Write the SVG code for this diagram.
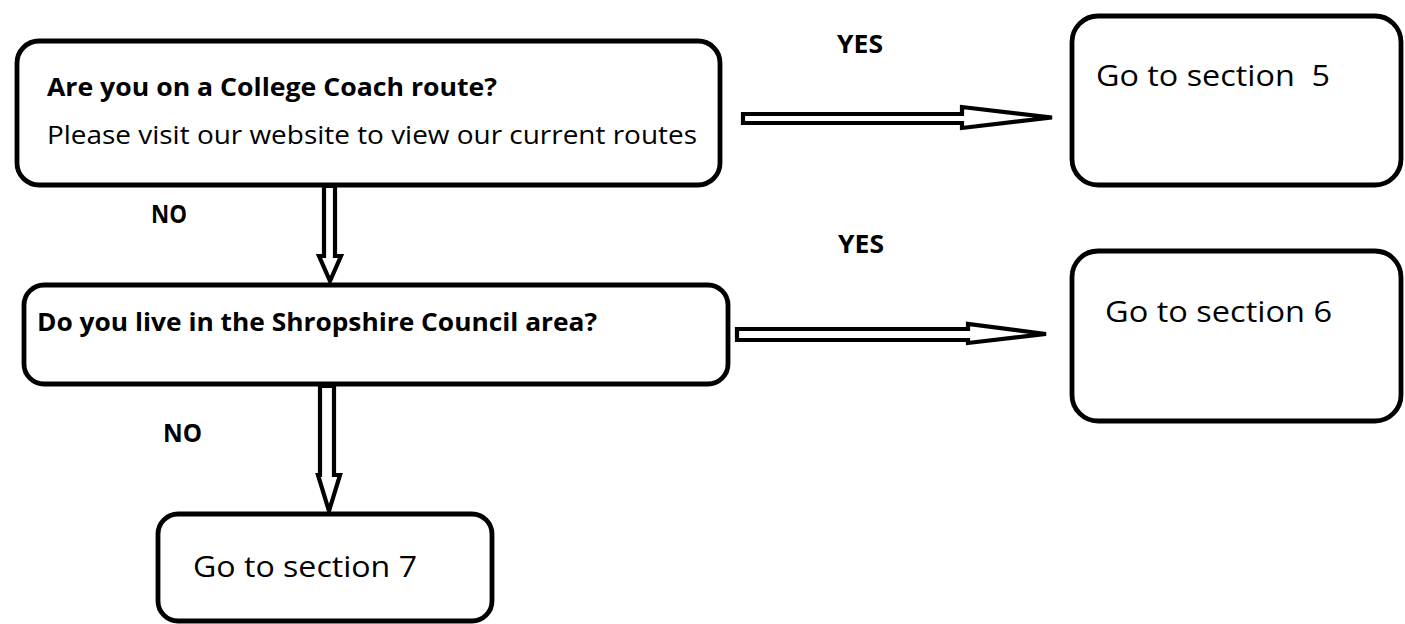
<svg xmlns="http://www.w3.org/2000/svg" width="1405" height="624" viewBox="0 0 1405 624">
<style>
.box{fill:#fff;stroke:#000;stroke-width:4.8}
.arr{fill:#fff;stroke:#000;stroke-width:4.2;stroke-linejoin:miter}
.t{font-family:"Open Sans","Noto Sans","Liberation Sans",sans-serif;fill:#000}
.b{font-weight:bold;font-size:25px}
.n{font-size:25.5px}
.g{font-size:30px}
</style>
<rect width="1405" height="624" fill="#fff"/>
<g id="connectors">
<polygon class="arr" points="743,114 962,114 962,107 1052,117.5 962,128 962,123 743,123"/>
<polygon class="arr" points="737,329 968,329 968,324 1046,334 968,343 968,340 737,340"/>
<polygon class="arr" points="324,186 335,186 335,256 341,256 330,281 319,256 324,256"/>
<polygon class="arr" points="320,386 334,386 334,475 340,475 329,511 318,475 320,475"/>
<text class="t b" x="837" y="53" textLength="46" lengthAdjust="spacingAndGlyphs">YES</text>
<text class="t b" x="838" y="253" textLength="46" lengthAdjust="spacingAndGlyphs">YES</text>
<text class="t b" x="151" y="223" textLength="36" lengthAdjust="spacingAndGlyphs">NO</text>
<text class="t b" x="163" y="442" textLength="39" lengthAdjust="spacingAndGlyphs">NO</text>
</g>
<g id="node-coach">
<rect class="box" x="17" y="41" width="703" height="144" rx="22"/>
<text class="t b" x="47" y="96" textLength="450" lengthAdjust="spacingAndGlyphs">Are you on a College Coach route?</text>
<text class="t n" x="47" y="144" textLength="650" lengthAdjust="spacingAndGlyphs">Please visit our website to view our current routes</text>
</g>
<g id="node-shropshire">
<rect class="box" x="24" y="285" width="704" height="99" rx="20"/>
<text class="t b" x="37" y="331" textLength="560" lengthAdjust="spacingAndGlyphs">Do you live in the Shropshire Council area?</text>
</g>
<g id="node-s5">
<rect class="box" x="1072" y="16" width="329" height="169" rx="26"/>
<text class="t g" x="1096" y="86" textLength="234" lengthAdjust="spacingAndGlyphs" xml:space="preserve">Go to section  5</text>
</g>
<g id="node-s6">
<rect class="box" x="1072" y="251" width="329" height="170" rx="26"/>
<text class="t g" x="1105" y="322" textLength="227" lengthAdjust="spacingAndGlyphs">Go to section 6</text>
</g>
<g id="node-s7">
<rect class="box" x="158" y="514" width="334" height="107" rx="20"/>
<text class="t g" x="193" y="577" textLength="224" lengthAdjust="spacingAndGlyphs">Go to section 7</text>
</g>
</svg>
